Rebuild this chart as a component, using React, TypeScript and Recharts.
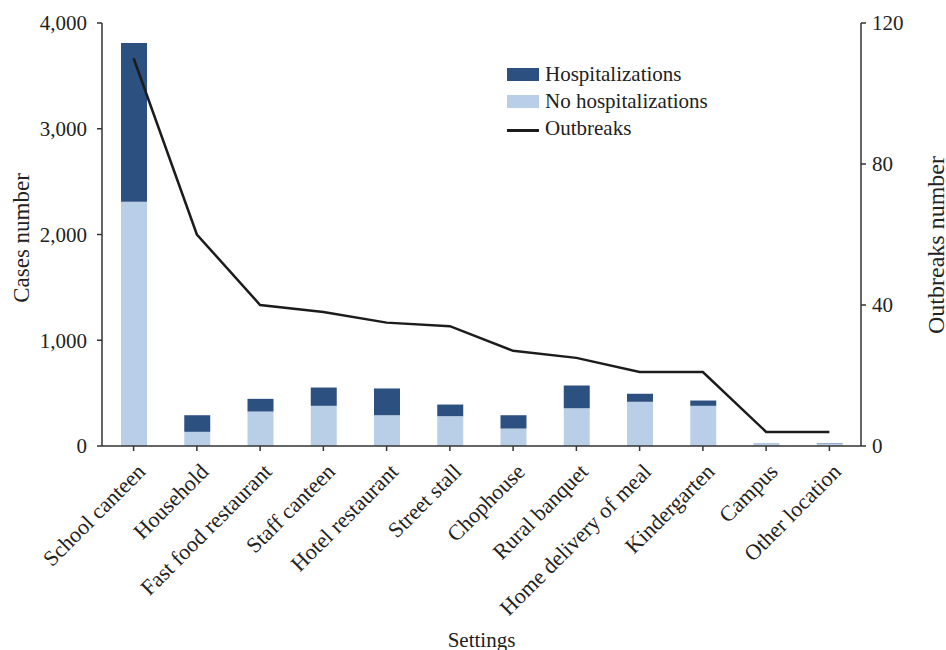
import React from 'react';
import {
  ComposedChart,
  Bar,
  Line,
  XAxis,
  YAxis,
  Legend,
} from 'recharts';

const settings = [
  'School canteen',
  'Household',
  'Fast food restaurant',
  'Staff canteen',
  'Hotel restaurant',
  'Street stall',
  'Chophouse',
  'Rural banquet',
  'Home delivery of meal',
  'Kindergarten',
  'Campus',
  'Other location',
];

const noHospitalizations = [2310, 134, 326, 380, 291, 282, 165, 357, 418, 380, 24, 22];
const hospitalizations = [1500, 157, 120, 173, 253, 110, 126, 215, 76, 50, 2, 4];
const outbreaks = [110, 60, 40, 38, 35, 34, 27, 25, 21, 21, 4, 4];

const casesTicks = [0, 1000, 2000, 3000, 4000];
const outbreakTicks = [0, 40, 80, 120];

const DARK = '#2c5080';
const LIGHT = '#b8cfe7';
const LINE = '#1c1c1c';
const AXIS = '#333333';
const FONT = '"Liberation Serif", "Times New Roman", serif';

const data = settings.map((name, i) => ({
  name,
  noHosp: noHospitalizations[i],
  hosp: hospitalizations[i],
  outbreaks: outbreaks[i],
}));

const tickStyle = { fontSize: 21, fill: '#222', fontFamily: FONT };

const AngledTick = (props: any) => {
  const { x, y, payload } = props;
  const tx = x + 13;
  const ty = y + 20;
  return (
    <text
      x={tx}
      y={ty}
      textAnchor="end"
      transform={`rotate(-45, ${tx}, ${ty})`}
      style={{ ...tickStyle, fontSize: 22 }}
    >
      {payload.value}
    </text>
  );
};

const LegendBox = () => {
  const row = { display: 'flex', alignItems: 'center', height: 27 } as const;
  const text = { fontSize: 21, fontFamily: FONT, color: '#222', marginLeft: 6, lineHeight: '27px' };
  return (
    <div>
      <div style={row}>
        <span style={{ width: 32, height: 13, background: DARK, display: 'inline-block' }} />
        <span style={text}>Hospitalizations</span>
      </div>
      <div style={row}>
        <span style={{ width: 32, height: 13, background: LIGHT, display: 'inline-block' }} />
        <span style={text}>No hospitalizations</span>
      </div>
      <div style={row}>
        <span style={{ width: 32, height: 2.5, background: LINE, display: 'inline-block', marginTop: 4 }} />
        <span style={text}>Outbreaks</span>
      </div>
    </div>
  );
};

export default function App() {
  return (
    <div style={{ position: 'absolute', left: 0, top: 0, width: 946, height: 650, background: '#fff' }}>
      <ComposedChart
        width={946}
        height={650}
        data={data}
        margin={{ top: 23, right: 0, bottom: 0, left: 0 }}
        barCategoryGap={0}
      >
        <XAxis
          dataKey="name"
          height={204}
          interval={0}
          tick={<AngledTick />}
          tickSize={5}
          axisLine={{ stroke: AXIS, strokeWidth: 1.5 }}
          tickLine={{ stroke: AXIS, strokeWidth: 1.5 }}
          label={{
            content: () => (
              <text x={481.5} y={647} textAnchor="middle" style={tickStyle}>
                Settings
              </text>
            ),
          }}
        />
        <YAxis
          yAxisId="left"
          width={102}
          domain={[0, 4000]}
          ticks={casesTicks}
          tickFormatter={(v: number) => v.toLocaleString('en-US')}
          tick={tickStyle}
          tickSize={5}
          tickMargin={10}
          axisLine={{ stroke: AXIS, strokeWidth: 1.5 }}
          tickLine={{ stroke: AXIS, strokeWidth: 1.5 }}
          label={{
            content: () => (
              <text
                x={21}
                y={238}
                textAnchor="middle"
                dominantBaseline="central"
                transform="rotate(-90, 21, 238)"
                style={{ ...tickStyle, fontSize: 23 }}
              >
                Cases number
              </text>
            ),
          }}
        />
        <YAxis
          yAxisId="right"
          orientation="right"
          width={85}
          domain={[0, 120]}
          ticks={outbreakTicks}
          tick={tickStyle}
          tickSize={5}
          tickMargin={6}
          axisLine={{ stroke: AXIS, strokeWidth: 1.5 }}
          tickLine={{ stroke: AXIS, strokeWidth: 1.5 }}
          label={{
            content: () => (
              <text
                x={936}
                y={245}
                textAnchor="middle"
                dominantBaseline="central"
                transform="rotate(-90, 936, 245)"
                style={{ ...tickStyle, fontSize: 24 }}
              >
                Outbreaks number
              </text>
            ),
          }}
        />
        <Legend
          layout="vertical"
          align="center"
          verticalAlign="middle"
          content={<LegendBox />}
          wrapperStyle={{ position: 'absolute', top: 61, left: 507, width: 'auto', bottom: 'auto' }}
        />
        <Bar
          yAxisId="left"
          dataKey="noHosp"
          stackId="cases"
          fill={LIGHT}
          barSize={26}
          name="No hospitalizations"
          isAnimationActive={false}
        />
        <Bar
          yAxisId="left"
          dataKey="hosp"
          stackId="cases"
          fill={DARK}
          barSize={26}
          name="Hospitalizations"
          isAnimationActive={false}
        />
        <Line
          yAxisId="right"
          dataKey="outbreaks"
          type="linear"
          stroke={LINE}
          strokeWidth={2.5}
          dot={false}
          name="Outbreaks"
          isAnimationActive={false}
        />
      </ComposedChart>
    </div>
  );
}
